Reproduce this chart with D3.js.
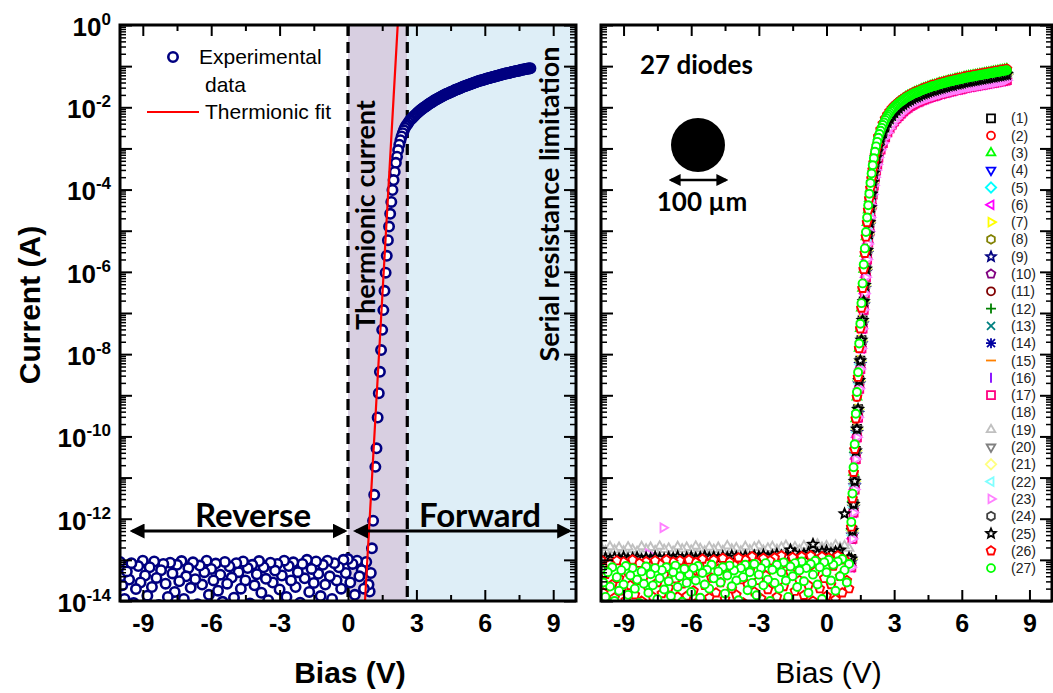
<!DOCTYPE html>
<html><head><meta charset="utf-8">
<script src="https://cdn.jsdelivr.net/npm/d3@7"></script>
<style>body{margin:0;background:#fff}</style>
</head><body>
<svg id="c" width="1053" height="693"></svg>
<script>
// ---------------- DATA (log10 of current in A) ----------------
// Left panel: experimental data of one diode
const leftRevV = d3.range(-100, 10).map(i => i / 10);           // -10.0 .. 0.9 V
const leftRevLogI = [
-13.05,-13.62,-13.95,-13.28,-13.48,-13.08,-14.05,-13.71,-13.15,-13.55,
-13.02,-13.38,-13.87,-13.18,-13.66,-13.04,-13.44,-14.1,-13.25,-13.1,
-13.58,-13.9,-13.07,-13.33,-13.78,-13.12,-13.52,-13.03,-13.95,-13.4,
-13.2,-13.68,-13.06,-13.47,-14.08,-13.14,-13.6,-13.3,-13.02,-13.85,
-13.22,-13.5,-13.09,-13.75,-13.36,-14.02,-13.05,-13.58,-13.16,-13.43,
-13.92,-13.08,-13.3,-13.7,-13.04,-13.5,-13.2,-14.06,-13.12,-13.62,
-13.35,-13.03,-13.8,-13.18,-13.46,-13.98,-13.07,-13.55,-13.26,-13.1,
-13.72,-13.38,-13.02,-13.9,-13.15,-13.5,-13.06,-13.66,-13.3,-14.04,
-13.1,-13.45,-13.0,-13.78,-13.22,-13.56,-13.04,-13.34,-13.88,-13.12,
-13.6,-13.02,-13.4,-13.95,-13.08,-13.5,-13.18,-13.7,-13.0,-13.32,
-12.98,-13.55,-13.1,-13.85,-13.02,-13.4,-13.25,-13.7,-13.05,-13.6];
const leftFwdV = d3.range(95, 266, 5).map(i => i / 100).concat(d3.range(54, 161).map(i => i / 20));
const leftFwdLogI = [
-13.77,-13.32,-12.72,-12.05,-11.42,-10.74,-10.29,-9.54,-8.95,-8.43,
-7.90,-7.41,-6.93,-6.46,-6.02,-5.61,-5.23,-4.90,-4.59,-4.30,
-4.01,-3.77,-3.57,-3.35,-3.20,-3.04,-2.91,-2.80,-2.71,-2.63,
-2.56,-2.50,-2.45,-2.41,-2.37,
-2.33,-2.30,-2.27,-2.24,-2.21,-2.185,-2.16,-2.135,-2.11,-2.085,
-2.06,-2.04,-2.02,-2.00,-1.98,-1.96,-1.94,-1.92,-1.90,-1.885,
-1.87,-1.85,-1.83,-1.815,-1.80,-1.785,-1.77,-1.755,-1.74,-1.725,
-1.71,-1.695,-1.68,-1.67,-1.66,-1.645,-1.63,-1.62,-1.61,-1.595,
-1.58,-1.57,-1.56,-1.55,-1.54,-1.525,-1.51,-1.50,-1.49,-1.48,
-1.47,-1.46,-1.45,-1.44,-1.43,-1.42,-1.41,-1.40,-1.39,-1.38,
-1.37,-1.36,-1.35,-1.345,-1.34,-1.33,-1.32,-1.31,-1.30,-1.295,
-1.29,-1.28,-1.27,-1.265,-1.26,-1.25,-1.24,-1.235,-1.23,-1.22,
-1.21,-1.205,-1.20,-1.19,-1.18,-1.175,-1.17,-1.165,-1.16,-1.15,
-1.14,-1.135,-1.13,-1.125,-1.12,-1.115,-1.11,-1.10,-1.09,-1.085,
-1.08,-1.075,-1.07,-1.065,-1.06,-1.055,-1.05];
const fitV = [0.72, 1.0, 1.5, 2.0, 2.2];
const fitLogI = [-14.25, -11.52, -6.64, -1.76, 0.19];
const regionEdges = [0, 2.6];   // thermionic zone: 0 .. 2.6 V, then serial-resistance zone

// Right panel: 27 diodes
const fwdV = d3.range(110, 226, 5).map(i => i / 100).concat(d3.range(23, 81).map(i => i / 10));
const fwdVdense = d3.range(110, 226, 5).map(i => i / 100).concat(d3.range(46, 161).map(i => i / 20));
const fwdA = [-12.08,-11.39,-10.75,-10.19,-9.45,-8.92,-8.44,-7.74,-7.26,-6.76,-6.28,-5.82,-5.43,-5.03,-4.68,-4.38,-4.10,-3.84,-3.61,-3.41,-3.24,-3.08,-2.95,-2.84,
-2.74,-2.65,-2.57,-2.50,-2.43,-2.37,-2.31,-2.26,-2.21,-2.17,
-2.13,-2.09,-2.06,-2.03,-2.00,-1.97,-1.95,-1.92,-1.90,-1.88,
-1.86,-1.84,-1.82,-1.80,-1.78,-1.76,-1.75,-1.73,-1.72,-1.70,
-1.69,-1.67,-1.66,-1.65,-1.64,-1.63,-1.62,-1.60,-1.59,-1.58,
-1.57,-1.56,-1.55,-1.54,-1.53,-1.52,-1.51,-1.50,-1.49,-1.485,
-1.48,-1.47,-1.46,-1.45,-1.44,-1.435,-1.43,-1.42,-1.41,-1.405,
-1.40,-1.39,-1.38,-1.375,-1.37,-1.365,-1.36,-1.35,-1.34,-1.335,
-1.33,-1.325,-1.32,-1.315,-1.31,-1.30,-1.29,-1.285,-1.28,-1.275,
-1.27,-1.265,-1.26,-1.255,-1.25,-1.245,-1.24,-1.235,-1.23,-1.225,
-1.22,-1.215,-1.21,-1.205,-1.20,-1.195,-1.19,-1.185,-1.18,-1.175,
-1.17,-1.165,-1.16,-1.155,-1.15,-1.145,-1.14,-1.135,-1.13,-1.125,
-1.12,-1.115,-1.11,-1.105,-1.10];
const fwdR = [-12.2,-11.51,-10.87,-10.31,-9.57,-9.04,-8.56,-7.86,-7.38,-6.88,-6.4,-5.94,-5.55,-5.15,-4.8,-4.5,-4.22,-3.96,-3.73,-3.52,-3.34,-3.17,-3.03,-2.91,
-2.71,-2.54,-2.40,-2.28,-2.18,-2.10,-2.03,-1.97,-1.92,-1.87,
-1.83,-1.79,-1.75,-1.72,-1.69,-1.66,-1.63,-1.61,-1.59,-1.56,
-1.54,-1.52,-1.50,-1.48,-1.46,-1.45,-1.43,-1.41,-1.40,-1.38,
-1.37,-1.35,-1.34,-1.33,-1.31,-1.30,-1.29,-1.28,-1.26,-1.25,
-1.24,-1.23,-1.22,-1.21,-1.20,-1.19,-1.18,-1.17,-1.16,-1.15,
-1.14,-1.13,-1.12,-1.11,-1.10,-1.09,-1.08,-1.07];
const fwdB = [-12.98,-12.29,-11.65,-11.09,-10.35,-9.82,-9.34,-8.64,-8.16,-7.66,-7.18,-6.72,-6.33,-5.93,-5.48,-5.08,-4.80,-4.44,-4.11,-3.83,-3.60,-3.38,-3.22,-3.08,
-2.96,-2.77,-2.62,-2.48,-2.37,-2.28,-2.2,-2.13,-2.07,-2.02,-1.97,-1.93,-1.89,-1.85,-1.82,-1.79,-1.76,
-1.74,-1.72,-1.69,-1.67,-1.65,-1.63,-1.61,-1.59,-1.58,-1.56,
-1.54,-1.53,-1.51,-1.5,-1.48,-1.47,-1.46,-1.44,-1.43,-1.42,
-1.41,-1.39,-1.38,-1.37,-1.36,-1.35,-1.34,-1.33,-1.32,-1.31,
-1.3,-1.29,-1.28,-1.27,-1.26,-1.25,-1.24,-1.23,-1.22,-1.21,-1.2];
const fwdD = [-13.05,-12.4,-11.72,-11.2,-10.45,-9.9,-9.44,-8.72,-8.25,-7.75,-7.26,-6.8,-6.4,-6.0,-5.55,-5.15,-4.86,-4.5,-4.17,-3.89,-3.66,-3.44,-3.28,-3.14,
-3.0,-2.82,-2.67,-2.54,-2.43,-2.34,-2.26,-2.19,-2.13,-2.07,-2.02,-1.98,-1.93,-1.89,-1.86,-1.83,-1.8,
-1.78,-1.76,-1.73,-1.71,-1.69,-1.67,-1.65,-1.63,-1.62,-1.6,
-1.58,-1.57,-1.55,-1.54,-1.52,-1.51,-1.5,-1.48,-1.47,-1.46,
-1.45,-1.43,-1.42,-1.41,-1.4,-1.39,-1.38,-1.37,-1.36,-1.35,
-1.34,-1.33,-1.32,-1.31,-1.3,-1.29,-1.28,-1.27,-1.26,-1.25,-1.24];
const fwdC = [-13.18,-12.49,-11.85,-11.29,-10.55,-10.02,-9.54,-8.84,-8.36,-7.86,-7.38,-6.92,-6.53,-6.13,-5.7,-5.32,-5.02,-4.68,-4.38,-4.12,-3.9,-3.7,-3.53,-3.39,
-3.22,-3.03,-2.87,-2.73,-2.61,-2.51,-2.42,-2.34,-2.27,-2.21,-2.15,-2.1,-2.05,-2.01,-1.97,-1.94,-1.91,
-1.88,-1.86,-1.83,-1.81,-1.79,-1.77,-1.75,-1.73,-1.72,-1.7,
-1.68,-1.67,-1.65,-1.64,-1.62,-1.61,-1.6,-1.58,-1.57,-1.56,
-1.55,-1.53,-1.52,-1.51,-1.5,-1.49,-1.48,-1.47,-1.46,-1.45,
-1.44,-1.43,-1.42,-1.41,-1.4,-1.39,-1.38,-1.37,-1.36,-1.35,-1.34];

const revV1 = d3.range(-100, 11).map(i => i / 10);    // -10.0 .. 1.0 V
const revV2 = d3.range(-50, 6).map(i => i / 5);       // -10.0 .. 1.0 V, 0.2 V step
const rev27 = [
-13.22,-13.55,-13.9,-13.3,-13.65,-13.18,-14.0,-13.42,-13.75,-13.25,
-13.6,-13.15,-13.85,-13.38,-13.2,-13.7,-13.48,-14.05,-13.28,-13.58,
-13.16,-13.8,-13.35,-13.62,-13.2,-13.95,-13.45,-13.25,-13.72,-13.18,
-13.52,-13.88,-13.3,-13.14,-13.66,-13.4,-14.02,-13.22,-13.56,-13.35,
-13.78,-13.2,-13.5,-13.15,-13.92,-13.32,-13.6,-13.24,-13.7,-13.12,
-13.45,-14.08,-13.28,-13.55,-13.18,-13.82,-13.38,-13.14,-13.64,-13.26,
-13.5,-13.98,-13.2,-13.42,-13.12,-13.74,-13.3,-13.56,-13.1,-13.86,
-13.36,-13.2,-13.62,-13.08,-13.48,-14.0,-13.24,-13.56,-13.12,-13.7,
-13.3,-13.06,-13.5,-13.9,-13.16,-13.4,-13.08,-13.66,-13.26,-13.04,
-13.52,-13.2,-13.8,-13.1,-13.36,-13.02,-13.6,-13.18,-13.95,-13.06,
-13.3,-13.0,-13.5,-13.12,-13.75,-13.04,-13.4,-12.98,-13.25,-13.55,-13.1];
const rev26 = [
-13.0,-13.8,-13.35,-14.05,-13.1,-13.6,-13.92,-13.02,-13.45,-13.75,
-13.05,-13.98,-13.3,-13.62,-13.0,-13.85,-13.5,-13.08,-14.0,-13.4,
-13.04,-13.7,-13.25,-13.9,-13.02,-13.55,-13.1,-13.82,-13.36,-13.0,
-13.68,-14.06,-13.05,-13.46,-13.9,-13.02,-13.58,-13.2,-13.88,-13.0,
-13.4,-13.75,-13.06,-14.02,-13.3,-12.98,-13.62,-13.1,-13.92,-13.44,
-13.0,-13.8,-13.22,-13.55,-12.96,-13.95,-13.34,-13.05,-13.7,-13.12,
-13.85,-12.95,-13.48,-14.04,-13.0,-13.6,-13.26,-12.92,-13.78,-13.06,
-13.5,-13.94,-12.96,-13.38,-13.72,-13.02,-13.58,-12.95,-13.9,-13.2,
-12.9,-13.65,-13.08,-13.98,-13.3,-12.94,-13.76,-13.1,-13.5,-12.92,
-13.86,-13.16,-13.62,-12.9,-14.0,-13.28,-13.04,-13.7,-12.92,-13.45,
-13.88,-12.95,-13.6,-13.15,-13.96,-12.9,-13.4,-13.8,-13.0,-13.5,-13.7];
const rev25 = [
-12.98,-12.95,-12.99,-12.94,-12.97,-12.93,-12.98,-12.96,-12.94,-12.99,
-12.95,-12.97,-12.93,-12.96,-12.98,-12.94,-12.96,-12.92,-12.97,-12.95,
-12.93,-12.96,-12.94,-12.91,-12.95,-12.93,-12.96,-12.92,-12.94,-12.9,
-12.93,-12.95,-12.91,-12.94,-12.9,-12.92,-12.88,-12.93,-12.9,-12.86,
-12.9,-12.92,-12.76,-12.84,-12.9,-12.86,-12.82,-12.62,-12.85,-12.8,
-12.78,-12.84,-12.8,-12.76,-11.88,-12.95];
const rev19 = [
-12.7,-12.78,-12.68,-12.76,-12.7,-12.79,-12.69,-12.75,-12.8,-12.68,
-12.74,-12.7,-12.78,-12.67,-12.75,-12.72,-12.8,-12.68,-12.74,-12.7,
-12.77,-12.67,-12.73,-12.79,-12.69,-12.75,-12.7,-12.78,-12.66,-12.74,
-12.71,-12.79,-12.68,-12.76,-12.7,-12.66,-12.77,-12.72,-12.68,-12.75,
-12.7,-12.65,-12.74,-12.69,-12.76,-12.66,-12.72,-12.68,-12.62,-12.7,
-12.66,-12.72,-12.64,-12.7,-12.66,-12.72];
const rev23V = [-7.9, -7.25];
const rev23 = [-12.85, -12.22];

const seriesLabels = ['(1)','(2)','(3)','(4)','(5)','(6)','(7)','(8)','(9)','(10)','(11)','(12)','(13)','(14)',
  '(15)','(16)','(17)','(18)','(19)','(20)','(21)','(22)','(23)','(24)','(25)','(26)','(27)'];
const seriesColors = ['#000000','#ff0000','#00ff00','#0000ff','#00ffff','#ff00ff','#ffff00','#808000','#000080',
  '#800080','#800000','#008000','#008080','#0000a0','#ff8000','#8000ff','#ff0080','#ffffff','#c0c0c0','#808080',
  '#ffff80','#80ffff','#ff80ff','#404040','#000000','#ff0000','#00ff00'];
const seriesShapes = ['square','circle','triU','triD','diamond','triL','triR','hexagon','star','pentagon','circle',
  'plus','cross','asterisk','hbar','vbar','square','circle','triU','triD','diamond','triL','triR','hexagon','star',
  'pentagon','circle'];
const seriesFwd = ['B','R','R','D','B','C','B','B','D','C','B','B','D','D','B','C','C','B','B','B','B','D','C','B','B','R','A'];
const fwdSets = {A: [fwdVdense, fwdA], R: [fwdV, fwdR], B: [fwdV, fwdB], C: [fwdV, fwdC], D: [fwdV, fwdD]};
const seriesRev = {19: [revV2, rev19], 23: [rev23V, rev23], 25: [revV2, rev25], 26: [revV1, rev26], 27: [revV1, rev27]};

const xMajor = [-9, -6, -3, 0, 3, 6, 9];
const xMinor = [-7.5, -4.5, -1.5, 1.5, 4.5, 7.5];
const yDecades = d3.range(-14, 1);
const yLabelExp = [0, -2, -4, -6, -8, -10, -12, -14];

// ---------------- DRAWING ----------------
const svg = d3.select('#c');
const FA = "'Liberation Sans', Arial, sans-serif";
const FC = "Lato, 'Open Sans', sans-serif";
const p10 = e => Math.pow(10, e);
const yMinor = [];
yDecades.slice(0, -1).forEach(d => { for (let k = 2; k <= 9; k++) yMinor.push(k * p10(d)); });

const PL = {x0: 120, x1: 576, y0: 25, y1: 601};
const PR = {x0: 601, x1: 1052, y0: 25, y1: 601};
const xL = d3.scaleLinear([-10, 10], [PL.x0, PL.x1]);
const yL = d3.scaleLog([1e-14, 1], [PL.y1, PL.y0]);
const xR = d3.scaleLinear([-10, 10], [PR.x0, PR.x1]);
const yR = d3.scaleLog([1e-14, 1], [PR.y1, PR.y0]);

const defs = svg.append('defs');
[['clipL', PL], ['clipR', PR]].forEach(([id, P]) => {
  defs.append('clipPath').attr('id', id).append('rect')
    .attr('x', P.x0).attr('y', P.y0).attr('width', P.x1 - P.x0).attr('height', P.y1 - P.y0);
});
function arrowMarker(id, w) {
  defs.append('marker').attr('id', id).attr('viewBox', '0 0 10 10').attr('refX', 8).attr('refY', 5)
    .attr('markerUnits', 'userSpaceOnUse').attr('markerWidth', w).attr('markerHeight', w)
    .attr('orient', 'auto-start-reverse')
    .append('path').attr('d', 'M0,0L10,5L0,10Z').attr('fill', '#000');
}
arrowMarker('ah', 15);
arrowMarker('ahs', 12);

function shape(type, r) {
  const poly = (n, R, a0) => 'M' + d3.range(n).map(i => {
    const a = a0 + i * 2 * Math.PI / n; return [R * Math.cos(a), R * Math.sin(a)].map(v => v.toFixed(2)).join(',');
  }).join('L') + 'Z';
  const R = r * 1.25;
  switch (type) {
    case 'square': return `M${-r},${-r}h${2 * r}v${2 * r}h${-2 * r}Z`;
    case 'circle': return `M${r},0A${r},${r} 0 1,1 ${-r},0A${r},${r} 0 1,1 ${r},0Z`;
    case 'triU': return poly(3, R, -Math.PI / 2);
    case 'triD': return poly(3, R, Math.PI / 2);
    case 'triL': return poly(3, R, Math.PI);
    case 'triR': return poly(3, R, 0);
    case 'diamond': return poly(4, r * 1.3, -Math.PI / 2);
    case 'hexagon': return poly(6, r * 1.1, -Math.PI / 2);
    case 'pentagon': return poly(5, r * 1.15, -Math.PI / 2);
    case 'star': {
      const pts = d3.range(10).map(i => {
        const a = -Math.PI / 2 + i * Math.PI / 5, rr = i % 2 ? R * 0.45 : R;
        return [rr * Math.cos(a), rr * Math.sin(a)].map(v => v.toFixed(2)).join(',');
      });
      return 'M' + pts.join('L') + 'Z';
    }
    case 'plus': return `M${-R},0H${R}M0,${-R}V${R}`;
    case 'cross': return `M${-r},${-r}L${r},${r}M${-r},${r}L${r},${-r}`;
    case 'asterisk': return `M${-R},0H${R}M0,${-R}V${R}M${-r},${-r}L${r},${r}M${-r},${r}L${r},${-r}`;
    case 'hbar': return `M${-R},0H${R}`;
    case 'vbar': return `M0,${-R}V${R}`;
  }
}
const openShape = t => !['plus', 'cross', 'asterisk', 'hbar', 'vbar'].includes(t);

function drawAxes(x, y, P, showYLabels, boldTitle) {
  const g = svg.append('g');
  const styleAxis = sel => {
    sel.select('.domain').remove();
    sel.selectAll('.tick line').attr('stroke', '#000').attr('stroke-width', 2);
  };
  g.append('g').attr('transform', `translate(0,${P.y1})`)
    .call(d3.axisBottom(x).tickValues(xMajor).tickSize(-11).tickPadding(13).tickFormat(d => String(d)))
    .call(styleAxis)
    .call(s => s.selectAll('text').attr('font-family', FA).attr('font-weight', 'bold').attr('font-size', 25).attr('fill', '#000'));
  g.append('g').attr('transform', `translate(0,${P.y1})`)
    .call(d3.axisBottom(x).tickValues(xMinor).tickSize(-6).tickFormat('')).call(styleAxis);
  g.append('g').attr('transform', `translate(0,${P.y0})`)
    .call(d3.axisTop(x).tickValues(xMajor).tickSize(-11).tickFormat('')).call(styleAxis);
  g.append('g').attr('transform', `translate(0,${P.y0})`)
    .call(d3.axisTop(x).tickValues(xMinor).tickSize(-6).tickFormat('')).call(styleAxis);
  [[d3.axisLeft, P.x0], [d3.axisRight, P.x1]].forEach(([ax, px]) => {
    g.append('g').attr('transform', `translate(${px},0)`)
      .call(ax(y).tickValues(yDecades.map(p10)).tickSize(-12).tickFormat('')).call(styleAxis);
    g.append('g').attr('transform', `translate(${px},0)`)
      .call(ax(y).tickValues(yMinor).tickSize(-6).tickFormat('')).call(styleAxis)
      .call(s => s.selectAll('.tick line').attr('stroke-width', 1.5));
  });
  if (showYLabels) {
    const ga = g.append('g').attr('transform', `translate(${P.x0},0)`)
      .call(d3.axisLeft(y).tickValues(yLabelExp.map(p10)).tickSize(0).tickPadding(9).tickFormat(''))
      .call(s => s.select('.domain').remove());
    ga.selectAll('.tick text').each(function (d) {
      const t = d3.select(this).attr('font-family', FA).attr('font-weight', 'bold').attr('fill', '#000')
        .attr('font-size', 26).attr('dy', '0.4em');
      t.append('tspan').text('10');
      t.append('tspan').attr('font-size', 17).attr('dy', -11).text(String(Math.round(Math.log10(d))));
    });
  }
  svg.append('rect').attr('x', P.x0).attr('y', P.y0).attr('width', P.x1 - P.x0).attr('height', P.y1 - P.y0)
    .attr('fill', 'none').attr('stroke', '#000').attr('stroke-width', 3);
  svg.append('text').attr('x', (P.x0 + P.x1) / 2 + 2).attr('y', 683).attr('text-anchor', 'middle')
    .attr('font-family', FA).attr('font-size', 30).attr('font-weight', boldTitle ? 'bold' : 'normal')
    .attr('fill', '#000').text('Bias (V)');
}

// ---------- LEFT PANEL ----------
const bgL = svg.append('g');
bgL.append('rect').attr('x', xL(regionEdges[0])).attr('y', PL.y0)
  .attr('width', xL(regionEdges[1]) - xL(regionEdges[0])).attr('height', PL.y1 - PL.y0).attr('fill', '#d8cfe1');
bgL.append('rect').attr('x', xL(regionEdges[1])).attr('y', PL.y0)
  .attr('width', xL(10) - xL(regionEdges[1])).attr('height', PL.y1 - PL.y0).attr('fill', '#deeef7');
regionEdges.forEach(v => {
  bgL.append('line').attr('x1', xL(v)).attr('x2', xL(v)).attr('y1', PL.y0).attr('y2', PL.y1)
    .attr('stroke', '#000').attr('stroke-width', 3.2).attr('stroke-dasharray', '11,6');
});

const leftPts = d3.zip(leftRevV, leftRevLogI).concat(d3.zip(leftFwdV, leftFwdLogI))
  .sort((a, b) => b[0] - a[0]);
const gL = svg.append('g').attr('clip-path', 'url(#clipL)');
gL.selectAll('circle').data(leftPts).join('circle')
  .attr('cx', d => xL(d[0])).attr('cy', d => yL(p10(d[1]))).attr('r', 4.7)
  .attr('fill', '#fff').attr('stroke', '#000080').attr('stroke-width', 2.6);
gL.append('path').datum(d3.zip(fitV, fitLogI))
  .attr('d', d3.line().x(d => xL(d[0])).y(d => yL(p10(d[1]))))
  .attr('fill', 'none').attr('stroke', '#ff0000').attr('stroke-width', 2.2);

drawAxes(xL, yL, PL, true, true);

const annL = svg.append('g').attr('font-family', FC).attr('font-weight', 'bold').attr('fill', '#000');
annL.append('text').attr('transform', 'translate(375,215) rotate(-90)').attr('text-anchor', 'middle')
  .attr('font-size', 27).text('Thermionic current');
annL.append('text').attr('transform', 'translate(559,204) rotate(-90)').attr('text-anchor', 'middle')
  .attr('font-size', 27).text('Serial resistance limitation');
annL.append('text').attr('x', 253).attr('y', 527).attr('text-anchor', 'middle').attr('font-size', 33).text('Reverse');
annL.append('text').attr('x', 480).attr('y', 527).attr('text-anchor', 'middle').attr('font-size', 33).text('Forward');
[[xL(-9.45), xL(-0.15)], [xL(0.35), xL(9.7)]].forEach(([a, b]) => {
  svg.append('line').attr('x1', a).attr('x2', b).attr('y1', 531).attr('y2', 531)
    .attr('stroke', '#000').attr('stroke-width', 3)
    .attr('marker-start', 'url(#ah)').attr('marker-end', 'url(#ah)');
});
svg.append('text').attr('x', 40).attr('y', 305)
  .attr('transform', 'rotate(-90,40,305)').attr('text-anchor', 'middle')
  .attr('font-family', FA).attr('font-weight', 'bold').attr('font-size', 30).attr('fill', '#000').text('Current (A)');

const lg = svg.append('g').attr('font-family', FA).attr('font-size', 21).attr('fill', '#000');
lg.append('circle').attr('cx', 173).attr('cy', 57).attr('r', 4.7).attr('fill', '#fff')
  .attr('stroke', '#000080').attr('stroke-width', 2.6);
lg.append('text').attr('x', 199).attr('y', 64).text('Experimental');
lg.append('text').attr('x', 205).attr('y', 92).text('data');
lg.append('line').attr('x1', 147).attr('x2', 199).attr('y1', 112).attr('y2', 112)
  .attr('stroke', '#ff0000').attr('stroke-width', 2.2);
lg.append('text').attr('x', 205).attr('y', 119).text('Thermionic fit');

// ---------- RIGHT PANEL ----------
const gR = svg.append('g').attr('clip-path', 'url(#clipR)');
seriesLabels.forEach((lab, i) => {
  const n = i + 1;
  const [vv, ii] = fwdSets[seriesFwd[i]];
  let pts = d3.zip(vv, ii);
  if (seriesRev[n]) pts = pts.concat(d3.zip(seriesRev[n][0], seriesRev[n][1]));
  pts.sort((a, b) => b[0] - a[0]);
  const t = seriesShapes[i];
  gR.append('g').selectAll('path').data(pts).join('path')
    .attr('d', shape(t, 4))
    .attr('transform', d => `translate(${xR(d[0]).toFixed(2)},${yR(p10(d[1])).toFixed(2)})`)
    .attr('fill', openShape(t) ? '#fff' : 'none')
    .attr('stroke', seriesColors[i]).attr('stroke-width', 1.9);
});

drawAxes(xR, yR, PR, false, false);

const lgR = svg.append('g');
seriesLabels.forEach((lab, i) => {
  const yy = 118.3 + i * 17.3;
  const t = seriesShapes[i];
  lgR.append('path').attr('d', shape(t, 4)).attr('transform', `translate(991,${yy})`)
    .attr('fill', openShape(t) ? '#fff' : 'none').attr('stroke', seriesColors[i]).attr('stroke-width', 1.8);
  lgR.append('text').attr('x', 1011).attr('y', yy + 5).attr('font-family', FA).attr('font-size', 14)
    .attr('fill', '#222').text(lab);
});

const annR = svg.append('g').attr('font-family', FC).attr('font-weight', 'bold').attr('fill', '#000');
annR.append('text').attr('x', 640).attr('y', 74).attr('font-size', 26).text('27 diodes');
annR.append('circle').attr('cx', 698).attr('cy', 145).attr('r', 27).attr('fill', '#000');
svg.append('line').attr('x1', 671).attr('x2', 726).attr('y1', 180).attr('y2', 180)
  .attr('stroke', '#000').attr('stroke-width', 2.5)
  .attr('marker-start', 'url(#ahs)').attr('marker-end', 'url(#ahs)');
annR.append('text').attr('x', 702).attr('y', 211).attr('text-anchor', 'middle').attr('font-size', 26).text('100 µm');
</script>
</body></html>
